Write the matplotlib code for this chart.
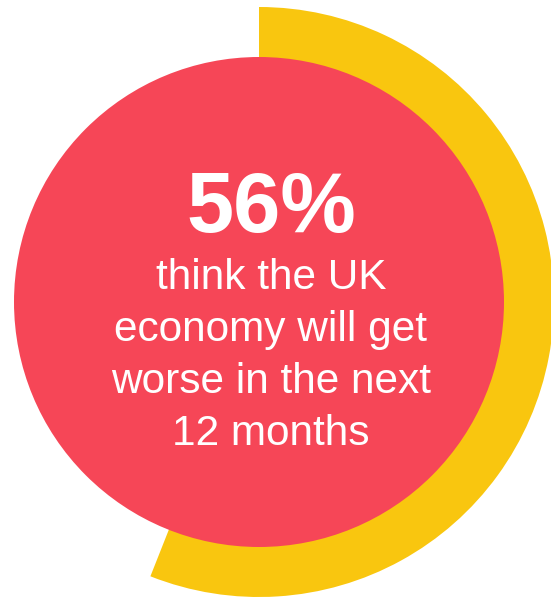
import matplotlib.pyplot as plt
from matplotlib.patches import Wedge, Circle

# share of respondents
pct = 56
headline = f"{pct}%"
caption = ["think the UK", "economy will get", "worse in the next", "12 months"]

RED = "#F64657"
YELLOW = "#F9C60F"

W, H = 551, 598
fig = plt.figure(figsize=(W / 100, H / 100), dpi=100)
ax = fig.add_axes([0, 0, 1, 1])
ax.set_xlim(0, W)
ax.set_ylim(0, H)
ax.set_aspect("equal")
ax.axis("off")

cx, cy = 259, H - 302

# yellow ring segment for the percentage, running clockwise from the top
ax.add_patch(Wedge((cx, cy), 295, 90 - 360 * pct / 100, 90, color=YELLOW, lw=0))
ax.add_patch(Circle((cx, cy), 245, color=RED, lw=0))

tx = 271
ax.text(tx, H - 232, headline, ha="center", va="baseline", color="white",
        fontsize=61, fontweight="bold", family="Liberation Sans")

base = H - 289
for i, line in enumerate(caption):
    ax.text(tx, base - i * 52, line, ha="center", va="baseline", color="white",
            fontsize=30.5, family="Liberation Sans")

fig.savefig("out.png", dpi=100)
